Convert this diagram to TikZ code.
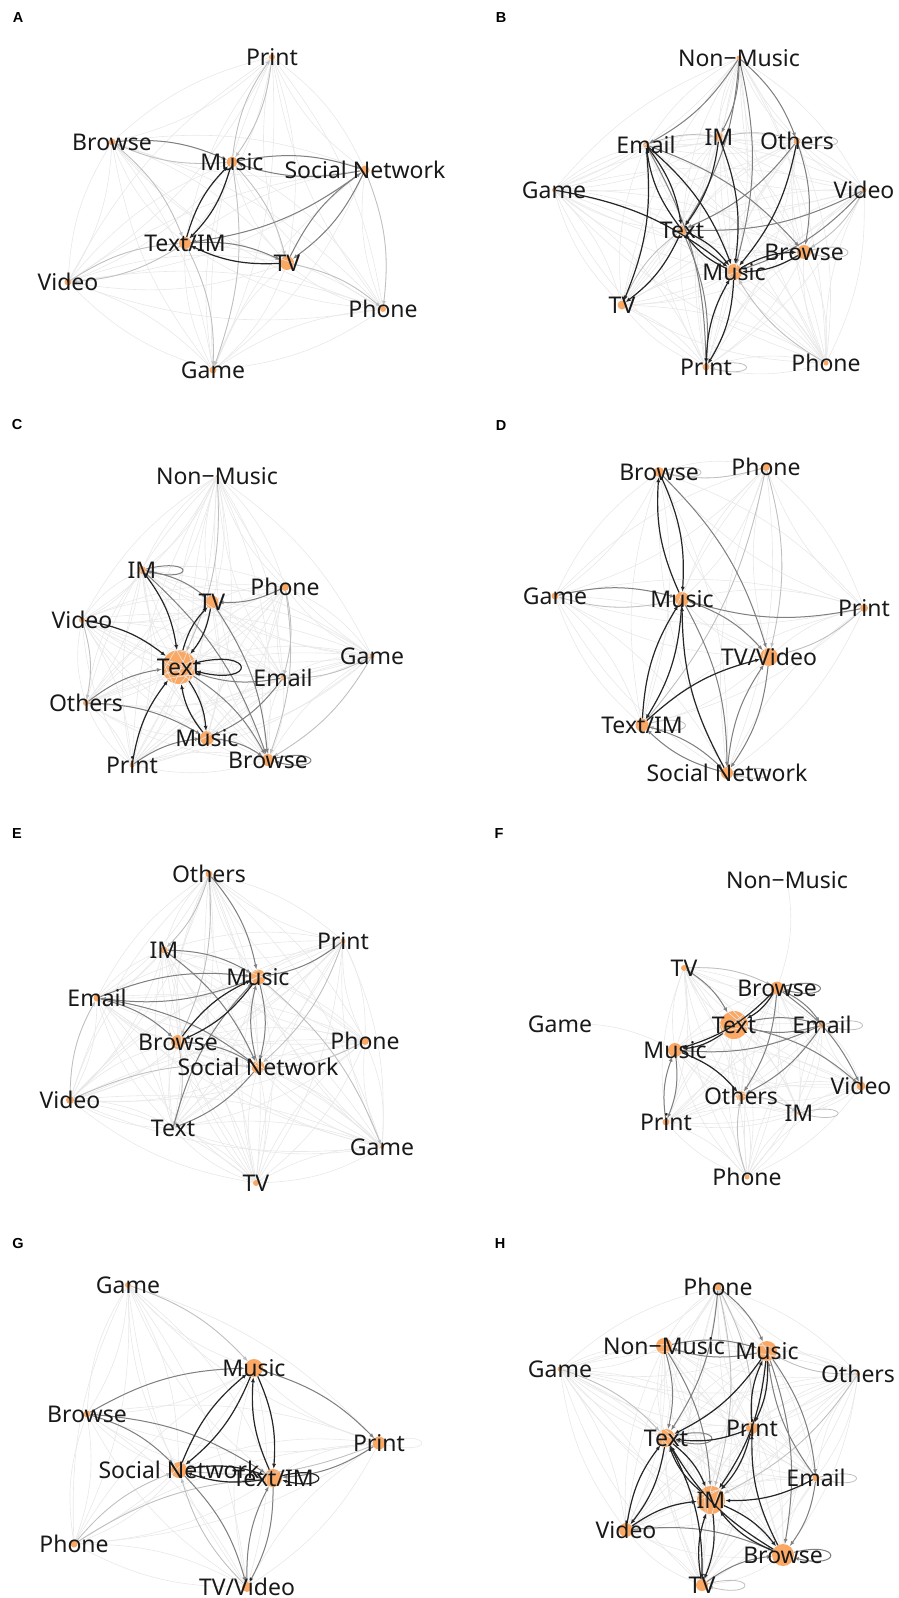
\documentclass[tikz,border=0pt]{standalone}
\usepackage{fontspec}
\setmainfont{Noto Sans}
\newfontfamily\ttlfont{Liberation Sans}
\usetikzlibrary{arrows.meta}
\definecolor{dotorange}{RGB}{250,168,100}
\tikzset{%
  >={Latex[width=4pt,length=5pt]},
  % Specifications for style of vertices and names:
          vert/.style = {circle, fill=dotorange, inner sep=0pt, minimum size=#1},
           lbl/.style = {inner sep=0pt, text height=16pt, text depth=0pt,
                         text=black!90, font=\fontsize{23}{25}\selectfont},
      panelttl/.style = {inner sep=0pt, font=\ttlfont\fontsize{14.5}{16}\selectfont\bfseries},
  % Specifications for style of edges:
         faint/.style = {draw=black!9, line width=0.6pt, bend left=14},
         light/.style = {draw=black!25, line width=0.8pt, bend left=14, ->},
           mid/.style = {draw=black!50, line width=1pt, bend left=14, ->},
          dark/.style = {draw=black!85, line width=1.2pt, bend left=14, ->},
      selfloop/.style = {relative=false, out=14, in=-14, min distance=50pt},
}
% faint edge between every ordered pair of a panel
\newcommand{\faintweb}[1]{%
  \foreach \va in {#1} {\foreach \vb in {#1} {%
    \ifx\va\vb\else\draw[faint] (\va) to (\vb);\fi}}}

\begin{document}
\begin{tikzpicture}[x=1pt, y=-1pt]
  \useasboundingbox (0,0) rectangle (899,1598);

  % ---------------- A ----------------
  \node (ttla) [panelttl] at (18,18) {A};
  \node (aprint)  [vert=6]  at (272,57)  {};
  \node (abrowse) [vert=7]  at (112,142) {};
  \node (amusic)  [vert=11] at (232,162) {};
  \node (asocial) [vert=9]  at (365,170) {};
  \node (atextim) [vert=12] at (185,243) {};
  \node (atv)     [vert=14] at (287,263) {};
  \node (avideo)  [vert=7]  at (68,282)  {};
  \node (aphone)  [vert=6]  at (383,309) {};
  \node (agame)   [vert=7]  at (213,370) {};

  \faintweb{aprint,abrowse,amusic,asocial,atextim,atv,avideo,aphone,agame}
  \draw[light] (aprint) to (amusic);
  \draw[light] (amusic) to (aprint);
  \draw[light] (abrowse) to (atextim);
  \draw[light] (amusic) to (atv);
  \draw[light] (atextim) to (avideo);
  \draw[light] (avideo) to (atextim);
  \draw[light] (atv) to (aphone);
  \draw[light] (atextim) to (agame);
  \draw[light] (amusic) to (agame);
  \draw[light] (asocial) to (aphone);
  \draw[light] (amusic) to (abrowse);
  \draw[mid]   (abrowse) to (amusic);
  \draw[mid]   (amusic) to (asocial);
  \draw[mid]   (asocial) to (amusic);
  \draw[mid]   (asocial) to (atextim);
  \draw[mid]   (asocial) to (atv);
  \draw[mid]   (atv) to (asocial);
  \draw[mid]   (atextim) to (atv);
  \draw[dark]  (amusic) to (atextim);
  \draw[dark]  (atextim) to (amusic);
  \draw[dark]  (atv) to (atextim);

  \node (aprintl)  [lbl] at (aprint)  {Print};
  \node (abrowsel) [lbl] at (abrowse) {Browse};
  \node (amusicl)  [lbl] at (amusic)  {Music};
  \node (asociall) [lbl] at (asocial) {Social Network};
  \node (atextiml) [lbl] at (atextim) {Text/IM};
  \node (atvl)     [lbl] at (atv)     {TV};
  \node (avideol)  [lbl] at (avideo)  {Video};
  \node (aphonel)  [lbl] at (aphone)  {Phone};
  \node (agamel)   [lbl] at (agame)   {Game};

  % ---------------- B ----------------
  \node (ttlb) [panelttl] at (501,18) {B};
  \node (bnonmusic) [vert=5]  at (739,58)  {};
  \node (bim)       [vert=9]  at (719,137) {};
  \node (bemail)    [vert=6]  at (646,145) {};
  \node (bothers)   [vert=7]  at (797,141) {};
  \node (bgame)     [vert=4]  at (554,190) {};
  \node (bvideo)    [vert=5]  at (864,190) {};
  \node (btext)     [vert=10] at (682,230) {};
  \node (bbrowse)   [vert=14] at (804,252) {};
  \node (bmusic)    [vert=16] at (734,272) {};
  \node (btv)       [vert=9]  at (622,305) {};
  \node (bprint)    [vert=7]  at (706,367) {};
  \node (bphone)    [vert=5]  at (826,363) {};

  \faintweb{bnonmusic,bim,bemail,bothers,bgame,bvideo,btext,bbrowse,bmusic,btv,bprint,bphone}
  \draw[light] (bothers) to[selfloop] (bothers);
  \draw[light] (bbrowse) to[selfloop] (bbrowse);
  \draw[light] (bprint) to[selfloop] (bprint);
  \draw[light] (bemail) to (bim);
  \draw[light] (bim) to (bothers);
  \draw[light] (bphone) to (bmusic);
  \draw[light] (bvideo) to (bbrowse);
  \draw[light] (btv) to (btext);
  \draw[mid]   (bnonmusic) to (bim);
  \draw[mid]   (bnonmusic) to (bemail);
  \draw[mid]   (bnonmusic) to (btext);
  \draw[mid]   (bnonmusic) to (bmusic);
  \draw[mid]   (bnonmusic) to (bothers);
  \draw[mid]   (bvideo) to (btext);
  \draw[mid]   (bvideo) to (bmusic);
  \draw[mid]   (bothers) to (bbrowse);
  \draw[mid]   (bemail) to (bbrowse);
  \draw[mid]   (bothers) to (btext);
  \draw[mid]   (bemail) to (bprint);
  \draw[mid]   (btext) to (bprint);
  \draw[dark]  (bemail) to (btext);
  \draw[dark]  (btext) to (bemail);
  \draw[dark]  (bemail) to (bmusic);
  \draw[dark]  (bemail) to (btv);
  \draw[dark]  (bim) to (bmusic);
  \draw[dark]  (bim) to (btext);
  \draw[dark]  (bothers) to (bmusic);
  \draw[dark]  (bbrowse) to (bmusic);
  \draw[dark]  (bmusic) to (bbrowse);
  \draw[dark]  (btext) to (bmusic);
  \draw[dark]  (bmusic) to (btext);
  \draw[dark]  (bgame) to (bmusic);
  \draw[dark]  (btext) to (btv);
  \draw[dark]  (bprint) to (bmusic);
  \draw[dark]  (bmusic) to (bprint);

  \node (bnonmusicl) [lbl] at (bnonmusic) {Non−Music};
  \node (biml)       [lbl] at (bim)       {IM};
  \node (bemaill)    [lbl] at (bemail)    {Email};
  \node (bothersl)   [lbl] at (bothers)   {Others};
  \node (bgamel)     [lbl] at (bgame)     {Game};
  \node (bvideol)    [lbl] at (bvideo)    {Video};
  \node (btextl)     [lbl] at (btext)     {Text};
  \node (bbrowsel)   [lbl] at (bbrowse)   {Browse};
  \node (bmusicl)    [lbl] at (bmusic)    {Music};
  \node (btvl)       [lbl] at (btv)       {TV};
  \node (bprintl)    [lbl] at (bprint)    {Print};
  \node (bphonel)    [lbl] at (bphone)    {Phone};

  % ---------------- C ----------------
  \node (ttlc) [panelttl] at (17,425) {C};
  \node (cnonmusic) [vert=3]  at (217,476) {};
  \node (cim)       [vert=8]  at (142,570) {};
  \node (cphone)    [vert=8]  at (285,587) {};
  \node (ctv)       [vert=13] at (212,602) {};
  \node (cvideo)    [vert=6]  at (82,620)  {};
  \node (cgame)     [vert=5]  at (372,656) {};
  \node (ctext)     [vert=34] at (179,667) {};
  \node (cemail)    [vert=5]  at (283,678) {};
  \node (cothers)   [vert=6]  at (86,703)  {};
  \node (cmusic)    [vert=14] at (207,738) {};
  \node (cprint)    [vert=5]  at (132,765) {};
  \node (cbrowse)   [vert=12] at (268,760) {};

  \faintweb{cnonmusic,cim,cphone,ctv,cvideo,cgame,ctext,cemail,cothers,cmusic,cprint,cbrowse}
  \draw[light] (cgame) to (cbrowse);
  \draw[light] (cgame) to (cemail);
  \draw[light] (cnonmusic) to (ctext);
  \draw[light] (cphone) to (cemail);
  \draw[light] (cphone) to (cbrowse);
  \draw[light] (cvideo) to (cothers);
  \draw[mid]   (cim) to[selfloop] (cim);
  \draw[mid]   (cbrowse) to[selfloop] (cbrowse);
  \draw[mid]   (cim) to (ctv);
  \draw[mid]   (cothers) to (ctext);
  \draw[mid]   (cemail) to (ctext);
  \draw[mid]   (cmusic) to (cbrowse);
  \draw[mid]   (cemail) to (cmusic);
  \draw[mid]   (cphone) to (ctv);
  \draw[mid]   (ctv) to (cbrowse);
  \draw[mid]   (cim) to (cbrowse);
  \draw[mid]   (cprint) to (cmusic);
  \draw[mid]   (cothers) to (cmusic);
  \draw[mid]   (ctext) to (cbrowse);
  \draw[dark]  (ctext) to[selfloop, min distance=62pt] (ctext);
  \draw[dark]  (ctv) to (ctext);
  \draw[dark]  (ctext) to (ctv);
  \draw[dark]  (ctext) to (cmusic);
  \draw[dark]  (cmusic) to (ctext);
  \draw[dark]  (cim) to (ctext);
  \draw[dark]  (cvideo) to (ctext);
  \draw[dark]  (cprint) to (ctext);

  \node (cnonmusicl) [lbl] at (cnonmusic) {Non−Music};
  \node (ciml)       [lbl] at (cim)       {IM};
  \node (cphonel)    [lbl] at (cphone)    {Phone};
  \node (ctvl)       [lbl] at (ctv)       {TV};
  \node (cvideol)    [lbl] at (cvideo)    {Video};
  \node (cgamel)     [lbl] at (cgame)     {Game};
  \node (ctextl)     [lbl] at (ctext)     {Text};
  \node (cemaill)    [lbl] at (cemail)    {Email};
  \node (cothersl)   [lbl] at (cothers)   {Others};
  \node (cmusicl)    [lbl] at (cmusic)    {Music};
  \node (cprintl)    [lbl] at (cprint)    {Print};
  \node (cbrowsel)   [lbl] at (cbrowse)   {Browse};

  % ---------------- D ----------------
  \node (ttld) [panelttl] at (501,426) {D};
  \node (dbrowse)  [vert=10] at (659,472) {};
  \node (dphone)   [vert=8]  at (766,467) {};
  \node (dgame)    [vert=7]  at (555,596) {};
  \node (dmusic)   [vert=14] at (682,599) {};
  \node (dprint)   [vert=8]  at (864,608) {};
  \node (dtvvideo) [vert=18] at (769,657) {};
  \node (dtextim)  [vert=13] at (642,725) {};
  \node (dsocial)  [vert=12] at (727,773) {};

  \faintweb{dbrowse,dphone,dgame,dmusic,dprint,dtvvideo,dtextim,dsocial}
  \draw[light] (dbrowse) to[selfloop] (dbrowse);
  \draw[light] (dtextim) to[selfloop] (dtextim);
  \draw[light] (dsocial) to[selfloop] (dsocial);
  \draw[light] (dphone) to (dtvvideo);
  \draw[light] (dphone) to (dtextim);
  \draw[light] (dphone) to (dbrowse);
  \draw[light] (dprint) to (dtvvideo);
  \draw[light] (dmusic) to (dgame);
  \draw[mid]   (dprint) to (dmusic);
  \draw[mid]   (dmusic) to (dsocial);
  \draw[mid]   (dbrowse) to (dtvvideo);
  \draw[mid]   (dsocial) to (dtvvideo);
  \draw[mid]   (dtvvideo) to (dsocial);
  \draw[mid]   (dtextim) to (dsocial);
  \draw[mid]   (dsocial) to (dtextim);
  \draw[mid]   (dgame) to (dmusic);
  \draw[mid]   (dmusic) to (dtvvideo);
  \draw[dark]  (dbrowse) to (dmusic);
  \draw[dark]  (dmusic) to (dbrowse);
  \draw[dark]  (dtextim) to (dmusic);
  \draw[dark]  (dmusic) to (dtextim);
  \draw[dark]  (dsocial) to (dmusic);
  \draw[dark]  (dtextim) to (dtvvideo);

  \node (dbrowsel)  [lbl] at (dbrowse)  {Browse};
  \node (dphonel)   [lbl] at (dphone)   {Phone};
  \node (dgamel)    [lbl] at (dgame)    {Game};
  \node (dmusicl)   [lbl] at (dmusic)   {Music};
  \node (dprintl)   [lbl] at (dprint)   {Print};
  \node (dtvvideol) [lbl] at (dtvvideo) {TV/Video};
  \node (dtextiml)  [lbl] at (dtextim)  {Text/IM};
  \node (dsociall)  [lbl] at (dsocial)  {Social Network};

  % ---------------- E ----------------
  \node (ttle) [panelttl] at (17,834) {E};
  \node (eothers) [vert=7]  at (209,874)  {};
  \node (eprint)  [vert=5]  at (343,941)  {};
  \node (eim)     [vert=7]  at (164,950)  {};
  \node (emusic)  [vert=15] at (258,977)  {};
  \node (eemail)  [vert=7]  at (97,998)   {};
  \node (ebrowse) [vert=14] at (178,1042) {};
  \node (ephone)  [vert=8]  at (365,1041) {};
  \node (esocial) [vert=13] at (258,1067) {};
  \node (evideo)  [vert=8]  at (70,1100)  {};
  \node (etext)   [vert=3]  at (173,1128) {};
  \node (egame)   [vert=4]  at (382,1147) {};
  \node (etv)     [vert=6]  at (256,1183) {};

  \faintweb{eothers,eprint,eim,emusic,eemail,ebrowse,ephone,esocial,evideo,etext,egame,etv}
  \draw[light] (eothers) to (ebrowse);
  \draw[light] (eothers) to (eim);
  \draw[light] (evideo) to (eemail);
  \draw[light] (evideo) to (esocial);
  \draw[light] (ephone) to (esocial);
  \draw[light] (emusic) to (egame);
  \draw[light] (ebrowse) to (etext);
  \draw[light] (eprint) to (esocial);
  \draw[mid]   (emusic) to (esocial);
  \draw[mid]   (esocial) to (emusic);
  \draw[mid]   (eemail) to (emusic);
  \draw[mid]   (emusic) to (eemail);
  \draw[mid]   (eprint) to (emusic);
  \draw[mid]   (eothers) to (emusic);
  \draw[mid]   (eim) to (emusic);
  \draw[mid]   (eemail) to (ebrowse);
  \draw[mid]   (ebrowse) to (esocial);
  \draw[mid]   (etext) to (emusic);
  \draw[mid]   (esocial) to (etext);
  \draw[mid]   (eemail) to (esocial);
  \draw[mid]   (eim) to (esocial);
  \draw[dark]  (emusic) to (ebrowse);
  \draw[dark]  (ebrowse) to (emusic);

  \node (eothersl) [lbl] at (eothers) {Others};
  \node (eprintl)  [lbl] at (eprint)  {Print};
  \node (eiml)     [lbl] at (eim)     {IM};
  \node (emusicl)  [lbl] at (emusic)  {Music};
  \node (eemaill)  [lbl] at (eemail)  {Email};
  \node (ebrowsel) [lbl] at (ebrowse) {Browse};
  \node (ephonel)  [lbl] at (ephone)  {Phone};
  \node (esociall) [lbl] at (esocial) {Social Network};
  \node (evideol)  [lbl] at (evideo)  {Video};
  \node (etextl)   [lbl] at (etext)   {Text};
  \node (egamel)   [lbl] at (egame)   {Game};
  \node (etvl)     [lbl] at (etv)     {TV};

  % ---------------- F ----------------
  \node (ttlf) [panelttl] at (499,834) {F};
  \node (fnonmusic) [vert=2]  at (787,880)  {};
  \node (ftv)       [vert=6]  at (684,968)  {};
  \node (fbrowse)   [vert=13] at (777,988)  {};
  \node (fgame)     [vert=2]  at (560,1024) {};
  \node (ftext)     [vert=28] at (734,1025) {};
  \node (femail)    [vert=7]  at (822,1025) {};
  \node (fmusic)    [vert=14] at (675,1050) {};
  \node (fvideo)    [vert=9]  at (861,1086) {};
  \node (fothers)   [vert=10] at (741,1096) {};
  \node (fim)       [vert=4]  at (799,1113) {};
  \node (fprint)    [vert=7]  at (666,1122) {};
  \node (fphone)    [vert=5]  at (747,1177) {};

  \faintweb{ftv,fbrowse,ftext,femail,fmusic,fvideo,fothers,fim,fprint,fphone}
  \draw[faint] (fgame) to (fmusic);
  \draw[faint] (fnonmusic) to (fbrowse);
  \draw[light] (femail) to[selfloop] (femail);
  \draw[light] (fim) to[selfloop] (fim);
  \draw[light] (ftv) to (fbrowse);
  \draw[light] (fphone) to (fothers);
  \draw[light] (fothers) to (fim);
  \draw[mid]   (fbrowse) to[selfloop] (fbrowse);
  \draw[mid]   (femail) to (fmusic);
  \draw[mid]   (ftext) to (femail);
  \draw[mid]   (femail) to (ftext);
  \draw[mid]   (fprint) to (fmusic);
  \draw[mid]   (fmusic) to (fprint);
  \draw[mid]   (ftv) to (ftext);
  \draw[mid]   (fbrowse) to (fvideo);
  \draw[mid]   (ftext) to (fvideo);
  \draw[mid]   (fbrowse) to (fothers);
  \draw[mid]   (femail) to (fothers);
  \draw[mid]   (fbrowse) to (femail);
  \draw[dark]  (ftext) to (fmusic);
  \draw[dark]  (fbrowse) to (ftext);
  \draw[dark]  (fmusic) to (fothers);
  \draw[dark]  (fbrowse) to (fmusic);

  \node (fnonmusicl) [lbl] at (fnonmusic) {Non−Music};
  \node (ftvl)       [lbl] at (ftv)       {TV};
  \node (fbrowsel)   [lbl] at (fbrowse)   {Browse};
  \node (fgamel)     [lbl] at (fgame)     {Game};
  \node (ftextl)     [lbl] at (ftext)     {Text};
  \node (femaill)    [lbl] at (femail)    {Email};
  \node (fmusicl)    [lbl] at (fmusic)    {Music};
  \node (fvideol)    [lbl] at (fvideo)    {Video};
  \node (fothersl)   [lbl] at (fothers)   {Others};
  \node (fiml)       [lbl] at (fim)       {IM};
  \node (fprintl)    [lbl] at (fprint)    {Print};
  \node (fphonel)    [lbl] at (fphone)    {Phone};

  % ---------------- G ----------------
  \node (ttlg) [panelttl] at (18,1243) {G};
  \node (ggame)    [vert=6]  at (128,1285) {};
  \node (gmusic)   [vert=18] at (254,1368) {};
  \node (gbrowse)  [vert=7]  at (87,1414)  {};
  \node (gprint)   [vert=13] at (379,1443) {};
  \node (gsocial)  [vert=16] at (179,1470) {};
  \node (gtextim)  [vert=18] at (273,1478) {};
  \node (gphone)   [vert=7]  at (74,1544)  {};
  \node (gtvvideo) [vert=10] at (247,1587) {};

  \faintweb{ggame,gmusic,gbrowse,gprint,gsocial,gtextim,gphone,gtvvideo}
  \draw[faint] (gprint) to[selfloop] (gprint);
  \draw[light] (gphone) to (gsocial);
  \draw[light] (gphone) to (gtextim);
  \draw[light] (ggame) to (gmusic);
  \draw[light] (gprint) to (gsocial);
  \draw[light] (gtvvideo) to (gsocial);
  \draw[mid]   (gprint) to (gtextim);
  \draw[mid]   (gmusic) to (gprint);
  \draw[mid]   (gtvvideo) to (gtextim);
  \draw[mid]   (gtextim) to (gtvvideo);
  \draw[mid]   (gsocial) to (gtvvideo);
  \draw[mid]   (gbrowse) to (gmusic);
  \draw[mid]   (gbrowse) to (gtextim);
  \draw[mid]   (gbrowse) to (gsocial);
  \draw[dark]  (gtextim) to[selfloop] (gtextim);
  \draw[dark]  (gmusic) to (gsocial);
  \draw[dark]  (gsocial) to (gmusic);
  \draw[dark]  (gmusic) to (gtextim);
  \draw[dark]  (gtextim) to (gmusic);
  \draw[dark]  (gsocial) to (gtextim);
  \draw[dark]  (gtextim) to (gsocial);

  \node (ggamel)    [lbl] at (ggame)    {Game};
  \node (gmusicl)   [lbl] at (gmusic)   {Music};
  \node (gbrowsel)  [lbl] at (gbrowse)  {Browse};
  \node (gprintl)   [lbl] at (gprint)   {Print};
  \node (gsociall)  [lbl] at (gsocial)  {Social Network};
  \node (gtextiml)  [lbl] at (gtextim)  {Text/IM};
  \node (gphonel)   [lbl] at (gphone)   {Phone};
  \node (gtvvideol) [lbl] at (gtvvideo) {TV/Video};

  % ---------------- H ----------------
  \node (ttlh) [panelttl] at (500,1243) {H};
  \node (hphone)    [vert=7]  at (718,1287) {};
  \node (hnonmusic) [vert=16] at (664,1346) {};
  \node (hmusic)    [vert=20] at (767,1351) {};
  \node (hgame)     [vert=5]  at (560,1369) {};
  \node (hothers)   [vert=4]  at (858,1374) {};
  \node (hprint)    [vert=12] at (752,1428) {};
  \node (htext)     [vert=18] at (666,1438) {};
  \node (hemail)    [vert=7]  at (816,1478) {};
  \node (him)       [vert=28] at (711,1500) {};
  \node (hvideo)    [vert=14] at (626,1530) {};
  \node (hbrowse)   [vert=22] at (783,1555) {};
  \node (htv)       [vert=12] at (702,1585) {};

  \faintweb{hphone,hnonmusic,hmusic,hgame,hothers,hprint,htext,hemail,him,hvideo,hbrowse,htv}
  \draw[light] (hemail) to[selfloop] (hemail);
  \draw[light] (htv) to[selfloop] (htv);
  \draw[light] (hgame) to (htext);
  \draw[light] (hothers) to (hmusic);
  \draw[light] (hothers) to (him);
  \draw[light] (hphone) to (hprint);
  \draw[light] (hphone) to (him);
  \draw[mid]   (htext) to[selfloop] (htext);
  \draw[mid]   (hbrowse) to[selfloop] (hbrowse);
  \draw[mid]   (hnonmusic) to (htext);
  \draw[mid]   (hnonmusic) to (him);
  \draw[mid]   (hmusic) to (hemail);
  \draw[mid]   (hemail) to (hmusic);
  \draw[mid]   (hnonmusic) to (hmusic);
  \draw[mid]   (hmusic) to (hnonmusic);
  \draw[mid]   (hphone) to (hmusic);
  \draw[mid]   (hphone) to (htext);
  \draw[mid]   (hmusic) to (hbrowse);
  \draw[mid]   (hemail) to (hbrowse);
  \draw[mid]   (htv) to (hbrowse);
  \draw[mid]   (hvideo) to (hbrowse);
  \draw[dark]  (hmusic) to (htext);
  \draw[dark]  (htext) to (hvideo);
  \draw[dark]  (hvideo) to (htext);
  \draw[dark]  (htext) to (him);
  \draw[dark]  (him) to (htext);
  \draw[dark]  (him) to (htv);
  \draw[dark]  (htv) to (him);
  \draw[dark]  (hmusic) to (hprint);
  \draw[dark]  (hprint) to (hmusic);
  \draw[dark]  (hprint) to (him);
  \draw[dark]  (hmusic) to (him);
  \draw[dark]  (htext) to (htv);
  \draw[dark]  (hbrowse) to (htext);
  \draw[dark]  (him) to (hbrowse);
  \draw[dark]  (hbrowse) to (him);
  \draw[dark]  (hemail) to (him);
  \draw[dark]  (hvideo) to (him);
  \draw[dark]  (hprint) to (htext);
  \draw[dark]  (hbrowse) to (hprint);

  \node (hphonel)    [lbl] at (hphone)    {Phone};
  \node (hnonmusicl) [lbl] at (hnonmusic) {Non−Music};
  \node (hmusicl)    [lbl] at (hmusic)    {Music};
  \node (hgamel)     [lbl] at (hgame)     {Game};
  \node (hothersl)   [lbl] at (hothers)   {Others};
  \node (hprintl)    [lbl] at (hprint)    {Print};
  \node (htextl)     [lbl] at (htext)     {Text};
  \node (hemaill)    [lbl] at (hemail)    {Email};
  \node (himl)       [lbl] at (him)       {IM};
  \node (hvideol)    [lbl] at (hvideo)    {Video};
  \node (hbrowsel)   [lbl] at (hbrowse)   {Browse};
  \node (htvl)       [lbl] at (htv)       {TV};
\end{tikzpicture}
\end{document}
